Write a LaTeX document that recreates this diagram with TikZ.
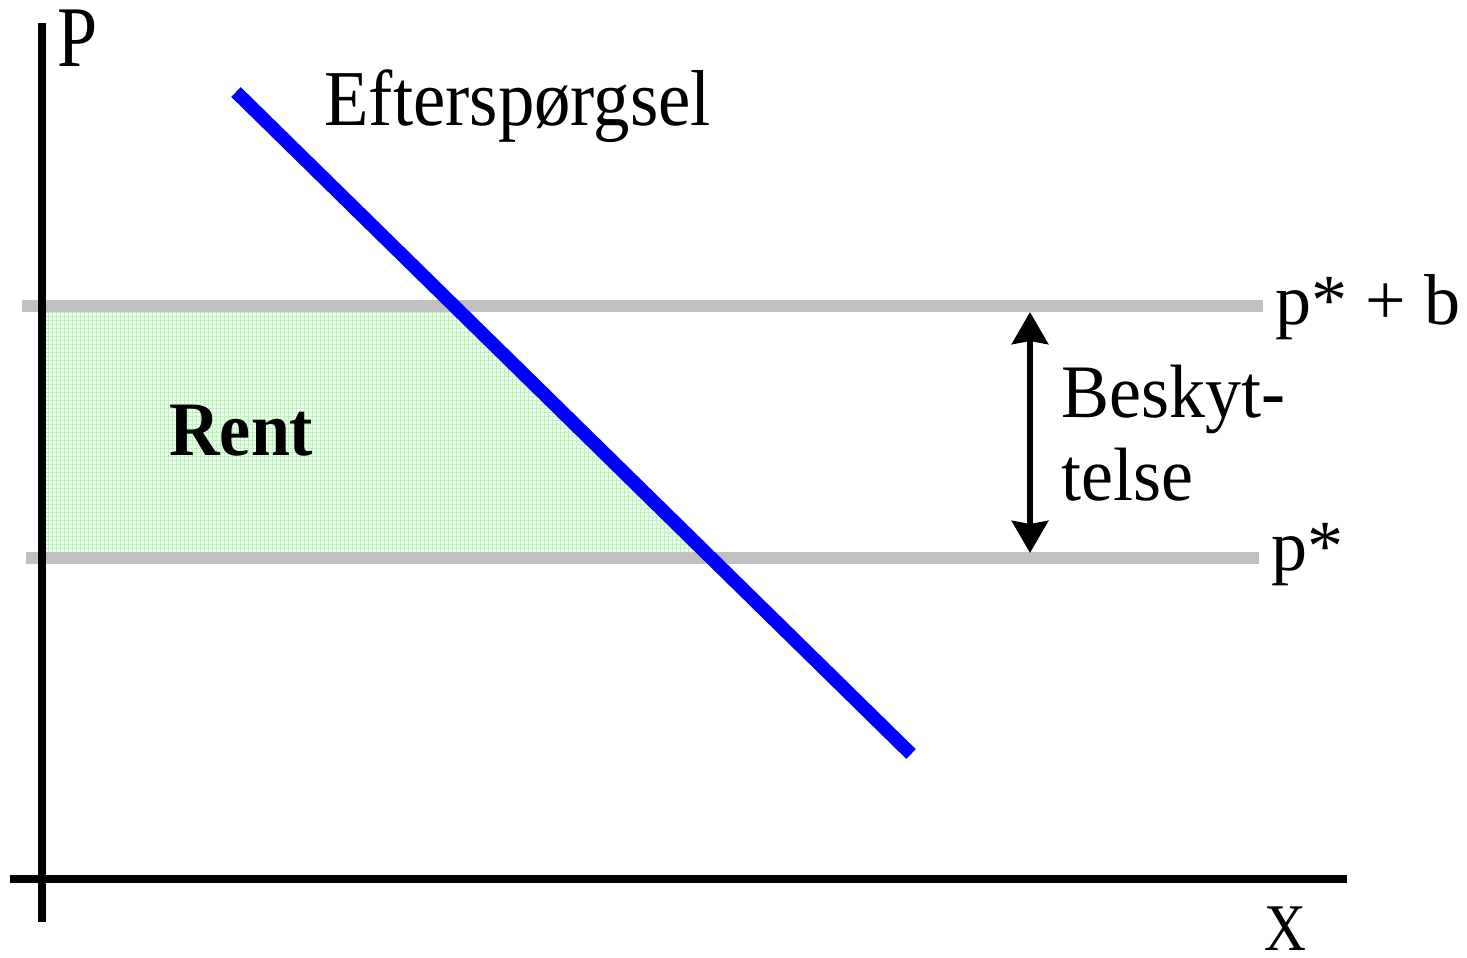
\documentclass[tikz,border=0pt]{standalone}
\usepackage{fontspec}
\usepackage{graphicx}
\setmainfont{Liberation Serif}
\usetikzlibrary{arrows.meta}
\definecolor{gridgreen}{RGB}{185,245,185}
\definecolor{rentbg}{RGB}{242,253,242}
\definecolor{linegray}{RGB}{192,192,192}
\definecolor{demandblue}{RGB}{0,0,255}
\tikzset{
  axisline/.style={line width=4pt, black},
  priceline/.style={line width=6pt, linegray},
  demandline/.style={line width=6.8pt, demandblue},
  gridfill/.style={line width=0.45pt, gridgreen},
  lbl/.style={inner sep=0pt, anchor=base west, font=\fontsize{36}{40}\selectfont},
  protarrow/.style={line width=3.2pt, black, {Stealth[length=16pt,width=18pt,inset=1.5pt]}-{Stealth[length=16pt,width=18pt,inset=1.5pt]}}
}
\begin{document}
\begin{tikzpicture}[x=0.5pt,y=-0.5pt]
\useasboundingbox (0,0) rectangle (1467,958);
% coordinates
\coordinate (yb) at (42,922);
\coordinate (yt) at (42,23);
\coordinate (xl) at (10,879);
\coordinate (xr) at (1347,879);
\coordinate (ul) at (22,306);
\coordinate (ur) at (1263,306);
\coordinate (ll) at (26,558);
\coordinate (lr) at (1259,558);
\coordinate (dt) at (236,92);
\coordinate (db) at (911,754);
\coordinate (at) at (1030,312);
\coordinate (ab) at (1030,553);
% rent area
\begin{scope}
  \clip (42,312) -- (460,312) -- (705,552) -- (42,552) -- cycle;
  \fill[rentbg] (40,308) rectangle (712,556);
  \foreach \gx in {44,48,...,712} {\draw[gridfill] (\gx,308) -- (\gx,556);}
  \foreach \gy in {312,316,...,556} {\draw[gridfill] (40,\gy) -- (712,\gy);}
\end{scope}
% price lines
\draw[priceline] (ul) -- (ur);
\draw[priceline] (ll) -- (lr);
% axes
\draw[axisline] (yb) -- (yt);
\draw[axisline] (xl) -- (xr);
% demand
\draw[demandline] (dt) -- (db);
% protection arrow
\draw[protarrow] (ab) -- (at);
% labels
\node[lbl] (P) at (57,66) {\scalebox{1}[1.2]{P}};
\node[lbl] (X) at (1264,950) {\fontsize{29}{32}\selectfont\scalebox{1}[1.15]{X}};
\node[lbl] (eft) at (324,125) {\scalebox{1.01}[1.1]{Efterspørgsel}};
\node[lbl] (pb) at (1275,324) {p* + b};
\node[lbl] (ps) at (1271,570) {p*};
\node[lbl] (besk) at (1061,417) {\scalebox{1}[1.05]{Beskyt-}};
\node[lbl] (tel) at (1061,500) {\scalebox{1}[1.05]{telse}};
\node[lbl] (rent) at (169,455) {\fontsize{35}{40}\selectfont\bfseries\scalebox{1}[1.1]{Rent}};
\end{tikzpicture}
\end{document}
